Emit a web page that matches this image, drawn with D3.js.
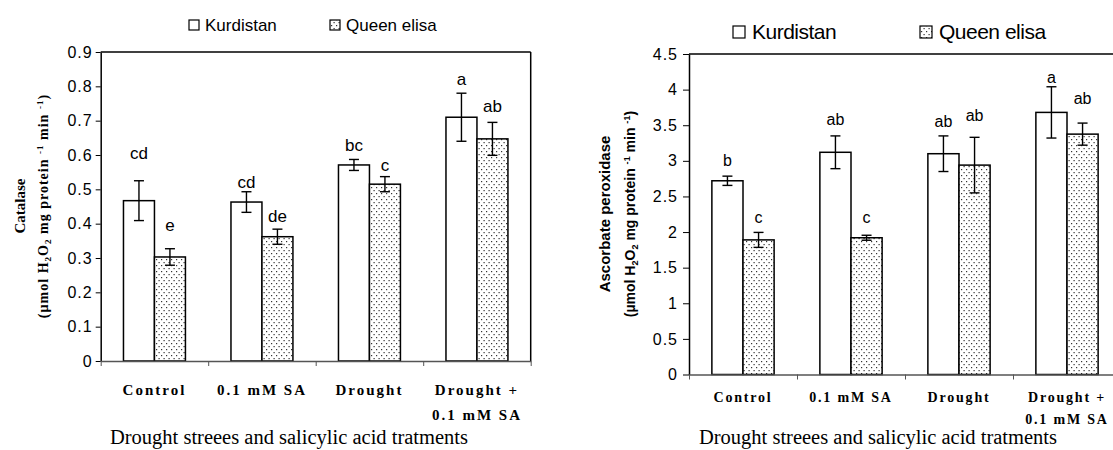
<!doctype html>
<html>
<head>
<meta charset="utf-8" />
<title>Catalase and ascorbate peroxidase</title>
<script src="https://cdn.jsdelivr.net/npm/d3@7"></script>
<style>
body { margin: 0; background: #fff; }
</style>
</head>
<body>
<svg id="chart" width="1113" height="450"></svg>
<script>
// categories and series
var categories = [["Control"], ["0.1 mM SA"], ["Drought"], ["Drought +", "0.1 mM SA"]];
var series = ["Kurdistan", "Queen elisa"];

// catalase (left panel)
var catKurdistan = [0.467, 0.463, 0.571, 0.71];
var catKurdistanErr = [0.058, 0.03, 0.016, 0.07];
var catQueen = [0.303, 0.362, 0.515, 0.647];
var catQueenErr = [0.024, 0.022, 0.022, 0.048];
var catKurdistanLetters = ["cd", "cd", "bc", "a"];
var catQueenLetters = ["e", "de", "c", "ab"];
var catKurdistanLetterAt = [0.606, 0.521, 0.629, 0.82];
var catQueenLetterAt = [0.396, 0.422, 0.571, 0.743];
var catTicks = [0, 0.1, 0.2, 0.3, 0.4, 0.5, 0.6, 0.7, 0.8, 0.9];

// ascorbate peroxidase (right panel)
var apxKurdistan = [2.72, 3.12, 3.10, 3.68];
var apxKurdistanErr = [0.065, 0.23, 0.25, 0.36];
var apxQueen = [1.89, 1.92, 2.94, 3.375];
var apxQueenErr = [0.105, 0.035, 0.39, 0.155];
var apxKurdistanLetters = ["b", "ab", "ab", "a"];
var apxQueenLetters = ["c", "c", "ab", "ab"];
var apxKurdistanLetterAt = [3.0, 3.58, 3.56, 4.17];
var apxQueenLetterAt = [2.21, 2.21, 3.64, 3.87];
var apxTicks = [0, 0.5, 1, 1.5, 2, 2.5, 3, 3.5, 4, 4.5];

var xTitle = "Drought streees and salicylic acid tratments";

var svg = d3.select("#chart");

// dotted fill for Queen elisa
var pat = svg.append("defs").append("pattern")
    .attr("id", "dots")
    .attr("patternUnits", "userSpaceOnUse")
    .attr("width", 5).attr("height", 6);
pat.append("rect").attr("width", 5).attr("height", 6).attr("fill", "#fff");
pat.append("rect").attr("x", 1).attr("y", 1).attr("width", 1.2).attr("height", 1.2).attr("fill", "#333");
pat.append("rect").attr("x", 3.5).attr("y", 4).attr("width", 1.2).attr("height", 1.2).attr("fill", "#333");

var fills = ["#fff", "url(#dots)"];

function drawPanel(o) {
    var g = svg.append("g");

    var x = d3.scaleBand().domain(d3.range(categories.length)).range([o.x0, o.x1]);
    var xs = d3.scaleBand().domain([0, 1]).range([0, x.bandwidth()]).paddingOuter(0.735);
    var y = d3.scaleLinear().domain([0, o.max]).range([o.yBottom, o.yTop]);

    var rows = [];
    categories.forEach(function(c, i) {
        rows.push({c: i, s: 0, v: o.k[i], e: o.kErr[i], l: o.kLet[i], la: o.kLetAt[i]});
        rows.push({c: i, s: 1, v: o.q[i], e: o.qErr[i], l: o.qLet[i], la: o.qLetAt[i]});
    });

    // plot frame (top and right)
    g.append("line").attr("x1", o.x0).attr("x2", o.x1).attr("y1", o.yTop).attr("y2", o.yTop)
        .attr("stroke", "#000").attr("stroke-width", 1.5);
    g.append("line").attr("x1", o.x1).attr("x2", o.x1).attr("y1", o.yTop).attr("y2", o.yBottom)
        .attr("stroke", "#000").attr("stroke-width", 1.5);

    // bars
    g.selectAll("rect.bar").data(rows).enter().append("rect")
        .attr("class", "bar")
        .attr("x", function(d) { return x(d.c) + xs(d.s); })
        .attr("width", xs.bandwidth())
        .attr("y", function(d) { return y(d.v); })
        .attr("height", function(d) { return y(0) - y(d.v); })
        .attr("fill", function(d) { return fills[d.s]; })
        .attr("stroke", "#000").attr("stroke-width", 1.5);

    // error bars
    var eb = g.selectAll("g.err").data(rows).enter().append("g").attr("class", "err")
        .attr("stroke", "#000").attr("stroke-width", 1.4);
    var cx = function(d) { return x(d.c) + xs(d.s) + xs.bandwidth() / 2; };
    eb.append("line")
        .attr("x1", cx).attr("x2", cx)
        .attr("y1", function(d) { return y(d.v + d.e); })
        .attr("y2", function(d) { return y(d.v - d.e); });
    eb.append("line")
        .attr("x1", function(d) { return cx(d) - 5; }).attr("x2", function(d) { return cx(d) + 5; })
        .attr("y1", function(d) { return y(d.v + d.e); }).attr("y2", function(d) { return y(d.v + d.e); });
    eb.append("line")
        .attr("x1", function(d) { return cx(d) - 5; }).attr("x2", function(d) { return cx(d) + 5; })
        .attr("y1", function(d) { return y(d.v - d.e); }).attr("y2", function(d) { return y(d.v - d.e); });

    // significance letters
    g.selectAll("text.letter").data(rows).enter().append("text")
        .attr("class", "letter")
        .attr("x", cx)
        .attr("y", function(d) { return y(d.la); })
        .attr("dy", "0.35em")
        .attr("text-anchor", "middle")
        .attr("font-family", "Liberation Sans, Arial, sans-serif")
        .attr("font-size", o.letterSize)
        .text(function(d) { return d.l; });

    // y axis
    var ya = g.append("g").attr("transform", "translate(" + o.x0 + ",0)")
        .call(d3.axisLeft(y).tickValues(o.ticks).tickFormat(o.fmt).tickSize(o.tickSize).tickSizeOuter(0).tickPadding(o.tickPad));
    ya.select(".domain").attr("stroke", "#000").attr("stroke-width", 1.5);
    ya.selectAll(".tick line").attr("stroke", "#000");
    ya.selectAll(".tick text")
        .attr("font-family", "Liberation Sans, Arial, sans-serif")
        .attr("font-size", 16).attr("letter-spacing", "1px").attr("fill", "#000");

    // x axis with ticks between categories
    var xl = d3.scaleLinear().domain([0, categories.length]).range([o.x0, o.x1]);
    var xa = g.append("g").attr("transform", "translate(0," + o.yBottom + ")")
        .call(d3.axisBottom(xl).tickValues(d3.range(categories.length + 1)).tickFormat("").tickSize(5).tickSizeOuter(0));
    xa.select(".domain").attr("stroke", "#555").attr("stroke-width", 1.5);
    xa.selectAll(".tick line").attr("stroke", "#555");

    // category labels
    var cl = g.selectAll("text.cat").data(categories).enter().append("text")
        .attr("class", "cat")
        .attr("text-anchor", "middle")
        .attr("font-family", "Liberation Serif, Times New Roman, serif")
        .attr("font-weight", "bold")
        .attr("font-size", o.catSize)
        .attr("letter-spacing", o.catSpacing);
    cl.selectAll("tspan").data(function(d, i) { return d.map(function(t) { return {t: t, i: i}; }); })
        .enter().append("tspan")
        .attr("x", function(d) { return x(d.i) + x.bandwidth() / 2; })
        .attr("y", function(d, j) { return o.catY + j * o.catLine; })
        .text(function(d) { return d.t; });

    // x title
    g.append("text")
        .attr("x", o.xTitleX).attr("y", o.xTitleY)
        .attr("text-anchor", "middle")
        .attr("font-family", "Liberation Serif, Times New Roman, serif")
        .attr("font-size", o.xTitleSize)
        .text(xTitle);

    // y title (two lines)
    g.append("text")
        .attr("transform", "translate(" + o.yTitleX1 + "," + o.yTitleY + ") rotate(-90)")
        .attr("text-anchor", "middle").attr("dy", "0.35em")
        .attr("font-family", o.yTitleFont).attr("font-weight", "bold").attr("font-size", o.yTitleSize1)
        .text(o.yTitle);
    var yt2 = g.append("text")
        .attr("transform", "translate(" + o.yTitleX2 + "," + o.yTitleY + ") rotate(-90)")
        .attr("text-anchor", "middle")
        .attr("font-family", o.yTitleFont).attr("font-weight", "bold").attr("font-size", o.yTitleSize2)
        .attr("letter-spacing", o.yTitleSpacing);
    var parts = [["(\u00b5mol H", ""], ["2", "sub"], ["O", ""], ["2", "sub"], [" mg protein ", ""], ["-1", "super"], [" min ", ""], ["-1", "super"], [")", ""]];
    var base = 0.35 * o.yTitleSize2, shift = 0;
    parts.forEach(function(p) {
        var small = o.yTitleSize2 * 0.65;
        var target = base + (p[1] === "sub" ? 0.3 * small : (p[1] === "super" ? -0.55 * small : 0));
        var t = yt2.append("tspan").text(p[0]).attr("dy", (target - shift) + "px");
        if (p[1]) t.attr("font-size", small);
        shift = target;
    });

    // legend
    series.forEach(function(s, i) {
        g.append("rect")
            .attr("x", o.legX[i]).attr("y", o.legY - o.legBox)
            .attr("width", o.legBox).attr("height", o.legBox)
            .attr("fill", fills[i]).attr("stroke", "#000").attr("stroke-width", 1.2);
        g.append("text")
            .attr("x", o.legX[i] + o.legBox + o.legGap).attr("y", o.legY + 1)
            .attr("font-family", "Liberation Sans, Arial, sans-serif")
            .attr("font-size", o.legSize).attr("letter-spacing", o.legSpacing)
            .text(s);
    });
}

drawPanel({
    x0: 100.7, x1: 530.7, yTop: 52, yBottom: 361, max: 0.9,
    ticks: catTicks, fmt: function(d) { return d === 0 ? "0" : d3.format(".1f")(d); },
    tickSize: 5, tickPad: 3,
    k: catKurdistan, kErr: catKurdistanErr, q: catQueen, qErr: catQueenErr,
    kLet: catKurdistanLetters, qLet: catQueenLetters, kLetAt: catKurdistanLetterAt, qLetAt: catQueenLetterAt,
    letterSize: 17,
    catSize: 15, catSpacing: "2px", catY: 395, catLine: 25,
    xTitleX: 289, xTitleY: 444, xTitleSize: 20.5,
    yTitle: "Catalase", yTitleFont: "Liberation Serif, Times New Roman, serif",
    yTitleSize1: 15, yTitleSize2: 14, yTitleSpacing: "1px",
    yTitleX1: 20, yTitleX2: 43, yTitleY: 206,
    legX: [189, 330], legY: 30, legBox: 10, legGap: 6, legSize: 17, legSpacing: "0px"
});

drawPanel({
    x0: 689, x1: 1121, yTop: 54, yBottom: 374.5, max: 4.5,
    ticks: apxTicks, fmt: function(d) { return String(d); },
    tickSize: 6, tickPad: 5,
    k: apxKurdistan, kErr: apxKurdistanErr, q: apxQueen, qErr: apxQueenErr,
    kLet: apxKurdistanLetters, qLet: apxQueenLetters, kLetAt: apxKurdistanLetterAt, qLetAt: apxQueenLetterAt,
    letterSize: 16,
    catSize: 14, catSpacing: "1.8px", catY: 402, catLine: 22,
    xTitleX: 878, xTitleY: 444, xTitleSize: 20.5,
    yTitle: "Ascorbate peroxidase", yTitleFont: "Liberation Sans, Arial, sans-serif",
    yTitleSize1: 15, yTitleSize2: 14, yTitleSpacing: "0px",
    yTitleX1: 605, yTitleX2: 630, yTitleY: 214,
    legX: [733, 920], legY: 38, legBox: 12, legGap: 7, legSize: 21, legSpacing: "-0.5px"
});
</script>
</body>
</html>
